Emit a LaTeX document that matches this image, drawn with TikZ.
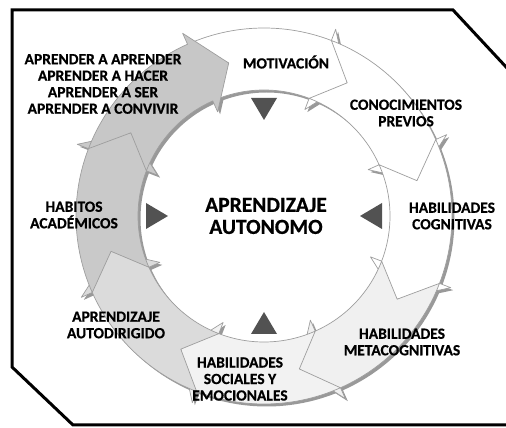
\documentclass[tikz,border=0pt]{standalone}
\usepackage{fontspec}
\setmainfont{Carlito}[BoldFeatures={FakeBold=0.6}]
\usetikzlibrary{positioning}

\begin{document}
\begin{tikzpicture}[
  x=1pt, y=1pt,
  font=\bfseries,
  seg/.style={draw=black!38, line width=0.7pt, line join=round},
  shd/.style={fill=black!40},
  lab/.style={font=\fontsize{15.5}{16.5}\selectfont\bfseries, align=center, inner sep=0pt},
  ttl/.style={font=\fontsize{21.5}{22}\selectfont\bfseries, align=center, inner sep=0pt},
  tri/.style={fill=black!68},
  frm/.style={line width=3pt, line join=miter},
]
\def\Ro{188}\def\Ri{126}\def\Rm{157}
\def\Hd{11}\def\Fl{12}
\useasboundingbox (0,0) rectangle (506,428);

% ---------- frame ----------
\draw[frm] (507,360) -- (453,418) -- (12,418) -- (12,61) -- (73,3) -- (507,3);

% ---------- ring of arrows ----------
\begin{scope}[shift={(264,212)}]
  % shadows first
  \foreach \T in {114,69,24,-21,-66,-111,-156,-201}{
    \fill[shd, shift={(2.5,-2.5)}] (\T:\Ro) arc[start angle=\T, end angle=\T-45, radius=\Ro]
      -- (\T-45:\Ro+\Fl) -- (\T-45-\Hd:\Rm) -- (\T-45:\Ri-\Fl) -- (\T-45:\Ri)
      arc[start angle=\T-45, end angle=\T, radius=\Ri] -- (\T-\Hd:\Rm) -- cycle;
  }
  % segments, clockwise from the top
  \foreach \T/\c in {114/white,69/white,24/white,-21/black!6,-66/black!5,-111/black!14,-156/black!21,-201/black!22}{
    \filldraw[seg, fill=\c] (\T:\Ro) arc[start angle=\T, end angle=\T-45, radius=\Ro]
      -- (\T-45:\Ro+\Fl) -- (\T-45-\Hd:\Rm) -- (\T-45:\Ri-\Fl) -- (\T-45:\Ri)
      arc[start angle=\T-45, end angle=\T, radius=\Ri] -- (\T-\Hd:\Rm) -- cycle;
  }
  % pointers to the centre
  \foreach \a in {90,0,-90,180}{
    \fill[tri, rotate=\a] (96,0) -- (118,13) -- (118,-13) -- cycle;
  }
\end{scope}

% ---------- labels ----------
\node[ttl] (centro) at (266,212) {APRENDIZAJE\\AUTONOMO};
\node[lab] (motiv) at (286,366) {MOTIVACIÓN};
\node[lab] (conoc) at (406,315) {CONOCIMIENTOS\\PREVIOS};
\node[lab] (cogn) at (452,212) {HABILIDADES\\COGNITIVAS};
\node[lab] (meta) at (402,86) {HABILIDADES\\METACOGNITIVAS};
\node[lab] (social) at (240,49) {HABILIDADES\\SOCIALES Y\\EMOCIONALES};
\node[lab] (autodir) at (116,103) {APRENDIZAJE\\AUTODIRIGIDO};
\node[lab] (habitos) at (74,213) {HABITOS\\ACADÉMICOS};
\node[lab] (aprender) at (103,344) {APRENDER A APRENDER\\APRENDER A HACER\\APRENDER A SER\\APRENDER A CONVIVIR};
\end{tikzpicture}
\end{document}
